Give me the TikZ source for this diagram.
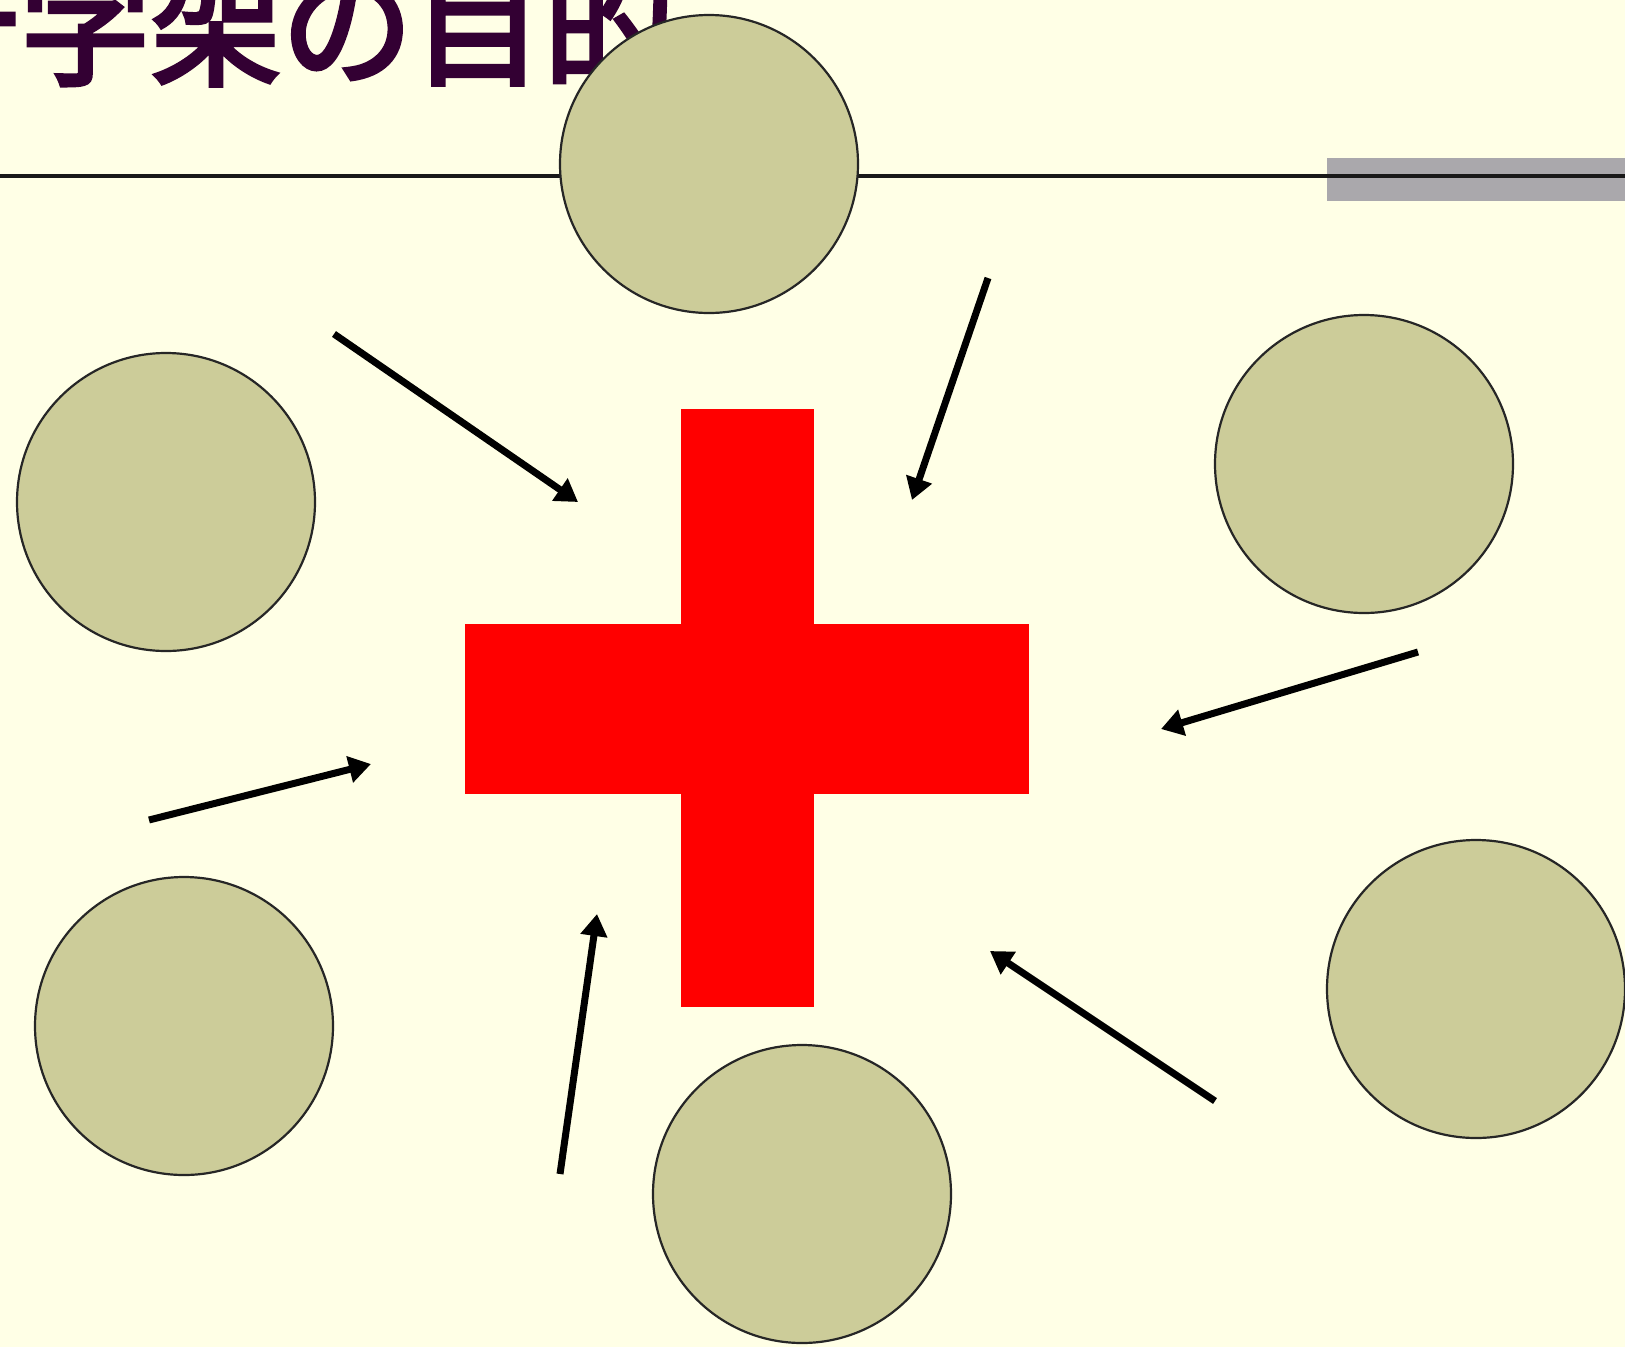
\documentclass[tikz,border=0pt]{standalone}
\usepackage{fontspec}
\newfontfamily\jpfont[BoldFont={Noto Sans CJK JP}, BoldFeatures={FakeBold=3.5}]{Noto Sans CJK JP}
\usetikzlibrary{arrows.meta}
\definecolor{bgcol}{RGB}{255,255,230}
\definecolor{ballcol}{RGB}{204,204,153}
\definecolor{titlecol}{RGB}{51,0,51}
\definecolor{barcol}{RGB}{170,168,172}
\tikzset{
  ball/.style={circle, draw=black!85, line width=2.2pt, fill=ballcol, minimum size=298pt, inner sep=0pt},
  crossbar/.style={rectangle, fill=red, draw=none, inner sep=0pt},
  pointer/.style={line width=7pt, -{Triangle[length=22pt,width=26pt]}},
}
\begin{document}
\begin{tikzpicture}[x=1pt,y=-1pt]
\useasboundingbox (0,0) rectangle (1625,1347);
\fill[bgcol] (0,0) rectangle (1625,1347);
\clip (0,0) rectangle (1625,1347);
% title
\node[anchor=base west, inner sep=0pt, text=titlecol, font=\jpfont\bfseries\fontsize{131}{131}\selectfont] (title) at (-111.5,75) {十字架の目的};
% grey bar and rule
\node[rectangle, fill=barcol, draw=none, inner sep=0pt, minimum width=300pt, minimum height=43pt, anchor=north west] (bar) at (1327,158) {};
\coordinate (ruleL) at (0,176);
\coordinate (ruleR) at (1625,176);
\draw[line width=4.5pt, black!90] (ruleL) -- (ruleR);
% circles
\node[ball] (c1) at (709,164) {};
\node[ball] (c2) at (166,502) {};
\node[ball] (c3) at (1364,464) {};
\node[ball] (c4) at (184,1026) {};
\node[ball] (c5) at (802,1194) {};
\node[ball] (c6) at (1476,989) {};
% cross
\node[crossbar, minimum width=133pt, minimum height=598pt] (vbar) at (747.5,708) {};
\node[crossbar, minimum width=564pt, minimum height=170pt] (hbar) at (747,709) {};
% arrows
\coordinate (a1) at (334,334);  \coordinate (b1) at (578,502);
\coordinate (a2) at (988,278);  \coordinate (b2) at (912,500);
\coordinate (a3) at (1418,652); \coordinate (b3) at (1161,729);
\coordinate (a4) at (1215,1101);\coordinate (b4) at (990,951);
\coordinate (a5) at (560,1174); \coordinate (b5) at (597,914);
\coordinate (a6) at (149,820);  \coordinate (b6) at (371,764);
\foreach \i in {1,...,6} { \draw[pointer] (a\i) -- (b\i); }
\end{tikzpicture}
\end{document}
